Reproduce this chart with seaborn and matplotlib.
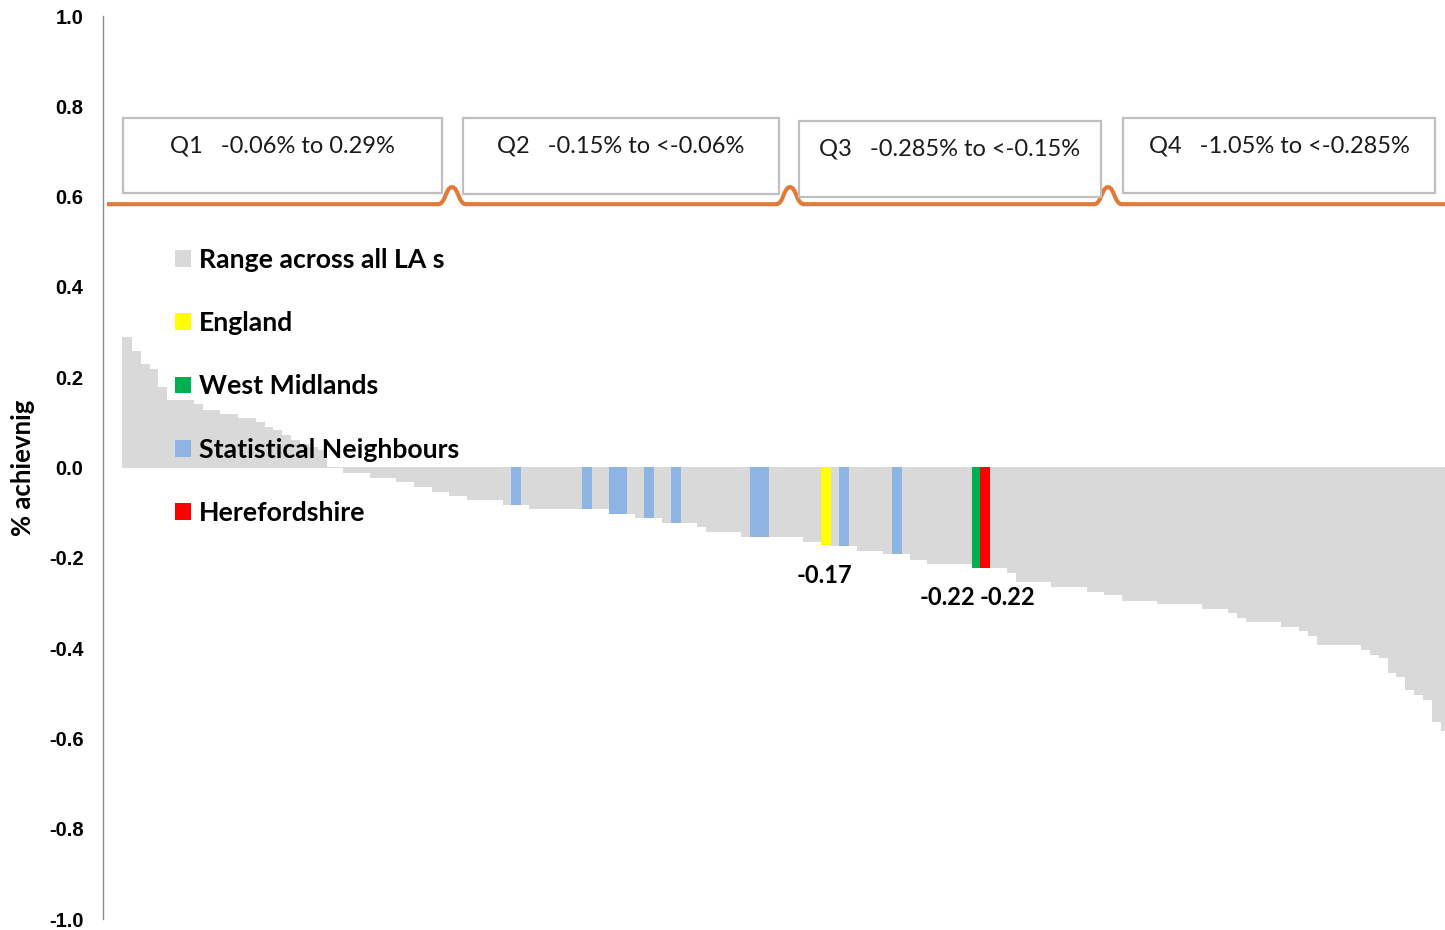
import matplotlib
matplotlib.use("Agg")
import matplotlib.pyplot as plt
from matplotlib.patches import Patch, Rectangle, PathPatch
from matplotlib.path import Path
import seaborn as sns
import pandas as pd

# ---------------- data ----------------
la_values = [
    0.290, 0.258, 0.230, 0.219, 0.178, 0.149, 0.149, 0.149, 0.140, 0.128,
    0.128, 0.119, 0.119, 0.110, 0.110, 0.100, 0.089, 0.082, 0.071, 0.060,
    0.052, 0.045, 0.038, 0.000, 0.000, -0.009, -0.009, -0.009, -0.021, -0.021,
    -0.021, -0.031, -0.031, -0.042, -0.042, -0.051, -0.051, -0.061, -0.061, -0.070,
    -0.070, -0.070, -0.070, -0.081, -0.081, -0.081, -0.090, -0.090, -0.090, -0.090,
    -0.090, -0.090, -0.090, -0.090, -0.090, -0.101, -0.101, -0.101, -0.110, -0.110,
    -0.110, -0.121, -0.121, -0.121, -0.121, -0.130, -0.141, -0.141, -0.141, -0.141,
    -0.151, -0.151, -0.151, -0.151, -0.151, -0.151, -0.151, -0.162, -0.162, -0.170,
    -0.171, -0.171, -0.171, -0.182, -0.182, -0.182, -0.190, -0.190, -0.190, -0.202,
    -0.202, -0.212, -0.212, -0.212, -0.212, -0.212, -0.220, -0.220, -0.221, -0.221,
    -0.232, -0.252, -0.252, -0.252, -0.252, -0.262, -0.262, -0.262, -0.262, -0.273,
    -0.273, -0.280, -0.280, -0.293, -0.293, -0.293, -0.293, -0.301, -0.301, -0.301,
    -0.301, -0.301, -0.312, -0.312, -0.312, -0.321, -0.332, -0.341, -0.341, -0.341,
    -0.341, -0.352, -0.352, -0.360, -0.370, -0.392, -0.392, -0.392, -0.392, -0.392,
    -0.401, -0.412, -0.419, -0.452, -0.462, -0.491, -0.502, -0.512, -0.561, -0.581,
]
sn_positions = [44, 52, 55, 56, 59, 62, 71, 72, 81, 87]
england_position = 79
west_midlands_position = 96
herefordshire_position = 97

group_names = ["Range across all LA s", "England", "West Midlands",
               "Statistical Neighbours", "Herefordshire"]
group_colors = ["#D9D9D9", "#FFFF00", "#00B050", "#8DB4E2", "#FF0000"]

quartile_labels = ["Q1   -0.06% to 0.29%", "Q2   -0.15% to <-0.06%",
                   "Q3   -0.285% to <-0.15%", "Q4   -1.05% to <-0.285%"]
y_ticks = [-1.0, -0.8, -0.6, -0.4, -0.2, 0.0, 0.2, 0.4, 0.6, 0.8, 1.0]
y_label = "% achievnig"

# ---------------- build table ----------------
groups = [group_names[0]] * len(la_values)
for p in sn_positions:
    groups[p] = group_names[3]
groups[england_position] = group_names[1]
groups[west_midlands_position] = group_names[2]
groups[herefordshire_position] = group_names[4]
df = pd.DataFrame({"pos": list(range(len(la_values))), "value": la_values, "group": groups})
palette = dict(zip(group_names, group_colors))

# ---------------- figure ----------------
sns.set_style("white")
plt.rcParams["font.family"] = ["Lato", "DejaVu Sans"]
plt.rcParams["text.color"] = "black"

W, H = 1445, 930
fig = plt.figure(figsize=(W / 100, H / 100), dpi=100)
AX_L, AX_R, AX_T, AX_B = 103, 1445, 16, 919
ax = fig.add_axes([AX_L / W, 1 - AX_B / H, (AX_R - AX_L) / W, (AX_B - AX_T) / H])

sns.barplot(data=df, x="pos", y="value", hue="group", palette=palette,
            dodge=False, width=1.0, errorbar=None, saturation=1, linewidth=0,
            legend=False, native_scale=True, ax=ax)
# close hairline gaps between adjacent bars
for patch in ax.patches:
    patch.set_edgecolor(patch.get_facecolor())
    patch.set_linewidth(0.5)
    patch.set_antialiased(False)

BAR0, BARW = 122, 8.85  # pixel of first bar left edge, bar width in px
ax.set_xlim(-0.5 - (BAR0 - AX_L) / BARW, -0.5 + (AX_R - BAR0) / BARW)
ax.set_ylim(-1.0, 1.0)

for s in ["top", "right", "bottom"]:
    ax.spines[s].set_visible(False)
ax.spines["left"].set_color("#8C8C8C")
ax.spines["left"].set_linewidth(1.0)
ax.set_xticks([])
ax.set_xlabel("")
ax.set_yticks(y_ticks)
ax.set_yticklabels([f"{t:.1f}" for t in y_ticks],
                   fontfamily="Liberation Sans", fontweight="bold", fontsize=14.5,
                   color="black")
ax.tick_params(axis="y", direction="out", length=5, width=1, color="#8C8C8C", pad=9)
ax.set_ylabel(y_label, fontsize=18.5, fontweight="bold", color="black")
ax.yaxis.set_label_coords((35 - AX_L) / (AX_R - AX_L), 0.5)

# ---------------- data labels ----------------
lab_font = dict(fontsize=17, fontweight="bold", color="black")
ax.annotate(f"{la_values[england_position]:.2f}",
            (england_position, la_values[england_position]),
            xytext=(-1, -31), textcoords="offset pixels", ha="center", va="center", **lab_font)
ax.annotate(f"{la_values[west_midlands_position]:.2f}",
            (west_midlands_position, la_values[west_midlands_position]),
            xytext=(-1, -31), textcoords="offset pixels", ha="right", va="center", **lab_font)
ax.annotate(f"{la_values[herefordshire_position]:.2f}",
            (herefordshire_position, la_values[herefordshire_position]),
            xytext=(-5, -31), textcoords="offset pixels", ha="left", va="center", **lab_font)

# ---------------- legend ----------------
handles = [Patch(facecolor=c, edgecolor="none", label=n) for n, c in zip(group_names, group_colors)]
leg = ax.legend(handles=handles, loc="upper left",
                bbox_to_anchor=((175 - AX_L) / (AX_R - AX_L), (AX_B - 248) / (AX_B - AX_T)),
                frameon=False, borderpad=0, borderaxespad=0,
                handlelength=0.6, handleheight=0.6, handletextpad=0.3,
                labelspacing=1.47, prop=dict(family="Lato", weight="bold", size=19.2))

# ---------------- quartile boxes ----------------
boxes_px = [(122.7, 118.3, 441.7, 193.3), (463, 118, 779, 194),
            (799, 121, 1101, 197), (1123, 118, 1435, 193)]
text_y_px = [146, 146, 149, 146]
for (x0, y0, x1, y1), ty, lab in zip(boxes_px, text_y_px, quartile_labels):
    fig.add_artist(Rectangle((x0 / W, 1 - y1 / H), (x1 - x0) / W, (y1 - y0) / H,
                             transform=fig.transFigure, facecolor="white",
                             edgecolor="#BFBFBF", linewidth=1.6))
    fig.text((x0 + x1) / 2 / W, 1 - ty / H, lab, ha="center", va="center",
             fontsize=17, color="#1a1a1a")

# ---------------- orange bracket line ----------------
px_to_x = lambda px: -0.5 + (px - BAR0) / BARW
px_to_y = lambda py: (467 - py) / 451
base, peak = px_to_y(204), px_to_y(187)
centers = [px_to_x(452), px_to_x(790), px_to_x(1108)]
verts = [(px_to_x(107), base)]
codes = [Path.MOVETO]
for c in centers:
    verts += [(c - 1.6, base)]
    codes += [Path.LINETO]
    verts += [(c - 0.7, base), (c - 0.75, peak), (c, peak)]
    codes += [Path.CURVE4] * 3
    verts += [(c + 0.75, peak), (c + 0.7, base), (c + 1.6, base)]
    codes += [Path.CURVE4] * 3
verts += [(px_to_x(1445), base)]
codes += [Path.LINETO]
ax.add_patch(PathPatch(Path(verts, codes), facecolor="none", edgecolor="#E07B39",
                       linewidth=3.0, clip_on=False, capstyle="butt"))

fig.savefig("out.png", dpi=100)
